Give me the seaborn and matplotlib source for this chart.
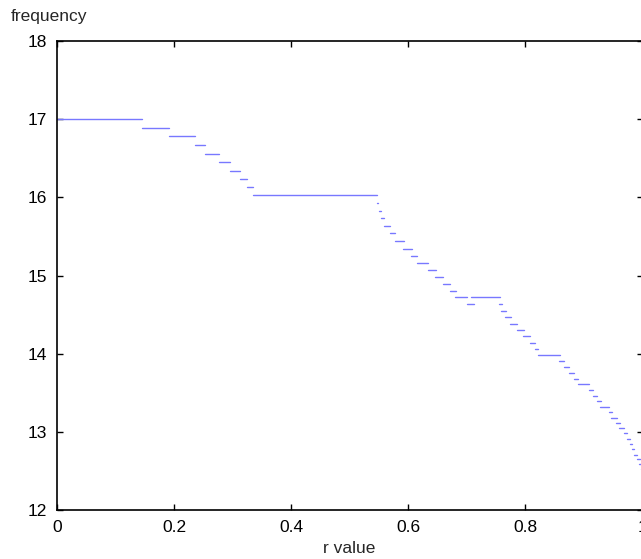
import numpy as np
import pandas as pd
import matplotlib
matplotlib.use("Agg")
import matplotlib.pyplot as plt
import seaborn as sns

# Horizontal step segments: start r, end r, frequency level
seg_start = [0.000, 0.146, 0.192, 0.235, 0.252, 0.277, 0.296, 0.312, 0.325, 0.334,
             0.547, 0.550, 0.553, 0.559, 0.568, 0.578, 0.591, 0.605, 0.615, 0.633,
             0.646, 0.659, 0.671, 0.680, 0.700, 0.707, 0.755, 0.759, 0.766, 0.774,
             0.785, 0.796, 0.808, 0.817, 0.822, 0.858, 0.866, 0.874, 0.883, 0.890,
             0.908, 0.915, 0.922, 0.928, 0.942, 0.947, 0.955, 0.960, 0.968, 0.973,
             0.979, 0.982, 0.986, 0.991, 0.994, 0.997]
seg_end = [0.145, 0.192, 0.235, 0.253, 0.277, 0.296, 0.312, 0.325, 0.334, 0.547,
           0.549, 0.553, 0.559, 0.568, 0.578, 0.592, 0.606, 0.615, 0.633, 0.647,
           0.660, 0.672, 0.681, 0.700, 0.712, 0.756, 0.760, 0.767, 0.776, 0.786,
           0.797, 0.808, 0.817, 0.822, 0.859, 0.866, 0.875, 0.883, 0.890, 0.909,
           0.916, 0.923, 0.929, 0.942, 0.948, 0.957, 0.961, 0.968, 0.974, 0.979,
           0.982, 0.986, 0.990, 0.995, 0.997, 1.000]
seg_level = [17.00, 16.885, 16.78, 16.67, 16.555, 16.45, 16.34, 16.23, 16.13, 16.03,
             15.925, 15.82, 15.73, 15.63, 15.54, 15.44, 15.345, 15.25, 15.16, 15.07,
             14.98, 14.89, 14.80, 14.72, 14.63, 14.72, 14.63, 14.55, 14.47, 14.38,
             14.30, 14.22, 14.14, 14.06, 13.98, 13.90, 13.83, 13.75, 13.68, 13.61,
             13.53, 13.46, 13.39, 13.32, 13.25, 13.18, 13.11, 13.05, 12.98, 12.91,
             12.84, 12.78, 12.71, 12.65, 12.59, 12.52]

x_ticks = [0, 0.2, 0.4, 0.6, 0.8, 1]
x_ticklabels = ["0", "0.2", "0.4", "0.6", "0.8", "1"]
y_ticks = [12, 13, 14, 15, 16, 17, 18]

rows = []
for i, (a, b, lv) in enumerate(zip(seg_start, seg_end, seg_level)):
    rows.append({"seg": i, "r": a, "freq": lv})
    rows.append({"seg": i, "r": b, "freq": lv})
df = pd.DataFrame(rows)

sns.set_theme(style="ticks")
plt.rcParams["font.family"] = ["Liberation Sans", "DejaVu Sans"]

fig = plt.figure(figsize=(6.41, 5.59), dpi=100)
W, H = 641, 559
ax = fig.add_axes([57 / W, 1 - 510 / H, (642.5 - 57) / W, (510 - 41) / H])

sns.lineplot(data=df, x="r", y="freq", units="seg", estimator=None,
             color="#7878ff", linewidth=1.0, ax=ax, legend=False)

ax.set_xlim(0, 1)
ax.set_ylim(12, 18)
ax.set_xticks(x_ticks)
ax.set_xticklabels(x_ticklabels)
ax.set_yticks(y_ticks)
ax.tick_params(direction="in", length=4, width=1, top=True, right=True,
               labelsize=12.5, colors="black", pad=7)
for s in ax.spines.values():
    s.set_visible(True)
    s.set_linewidth(1.2)
    s.set_color("black")
ax.set_xlabel("")
ax.set_ylabel("")
ax.grid(False)

fig.text(11 / W, 1 - 21 / H, "frequency", ha="left", va="baseline", fontsize=12.5)
fig.text(349 / W, 1 - 553 / H, "r value", ha="center", va="baseline", fontsize=12.5)

fig.savefig("out.png", dpi=100)
